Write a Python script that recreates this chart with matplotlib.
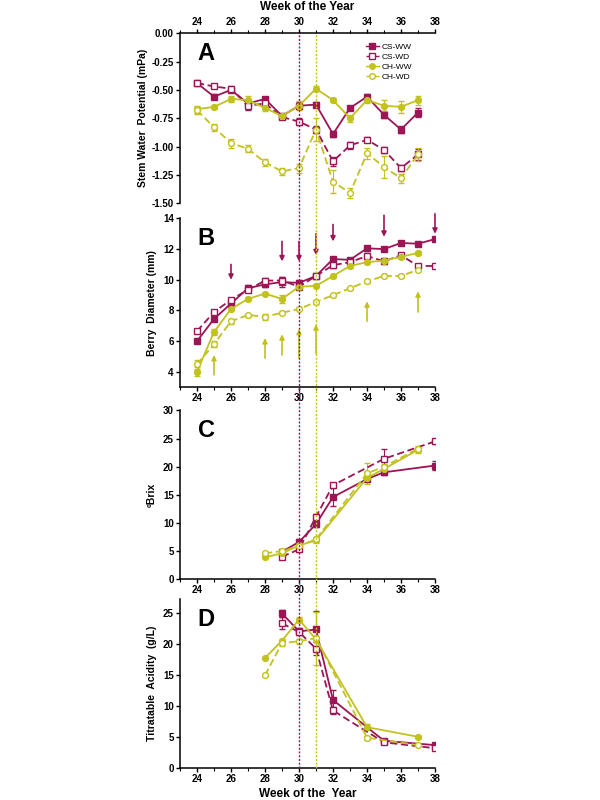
import matplotlib
matplotlib.use("Agg")
import matplotlib.pyplot as plt
import matplotlib.transforms as mtransforms
from matplotlib.lines import Line2D
import numpy as np

plt.rcParams['font.family'] = ['Liberation Sans', 'DejaVu Sans']
plt.rcParams['font.weight'] = 'bold'

CRIMSON = '#9c1555'
YELLOW = '#c2c21e'

series_names = ['CS-WW', 'CS-WD', 'CH-WW', 'CH-WD']

# Panel A: stem water potential
weeks_a = [24, 25, 26, 27, 28, 29, 30, 31, 32, 33, 34, 35, 36, 37]
swp_cs_ww = [-0.44, -0.56, -0.50, -0.62, -0.58, -0.73, -0.64, -0.63, -0.89, -0.66, -0.56, -0.72, -0.85, -0.70]
swp_cs_wd = [-0.44, -0.47, -0.49, -0.64, -0.62, -0.74, -0.78, -0.85, -1.13, -0.99, -0.94, -1.03, -1.19, -1.07]
swp_ch_ww = [-0.67, -0.65, -0.58, -0.59, -0.66, -0.73, -0.64, -0.49, -0.59, -0.75, -0.59, -0.64, -0.65, -0.59]
swp_ch_wd = [-0.68, -0.83, -0.97, -1.02, -1.14, -1.22, -1.19, -0.85, -1.31, -1.41, -1.06, -1.18, -1.28, -1.07]
swp_err_cs_ww = [0.01, 0.02, 0.02, 0.03, 0.02, 0.02, 0.03, 0.02, 0.03, 0.02, 0.02, 0.03, 0.03, 0.04]
swp_err_cs_wd = [0.01, 0.01, 0.02, 0.04, 0.03, 0.02, 0.03, 0.03, 0.04, 0.03, 0.02, 0.03, 0.03, 0.05]
swp_err_ch_ww = [0.03, 0.02, 0.03, 0.04, 0.03, 0.03, 0.04, 0.02, 0.02, 0.03, 0.03, 0.05, 0.05, 0.04]
swp_err_ch_wd = [0.03, 0.03, 0.04, 0.03, 0.03, 0.03, 0.04, 0.10, 0.10, 0.04, 0.05, 0.10, 0.04, 0.06]

# Panel B: berry diameter
weeks_b_cs = [24, 25, 26, 27, 28, 29, 30, 31, 32, 33, 34, 35, 36, 37, 38]
weeks_b_ch = [24, 25, 26, 27, 28, 29, 30, 31, 32, 33, 34, 35, 36, 37]
bd_cs_ww = [6.0, 7.45, 8.45, 9.45, 9.7, 9.85, 9.8, 10.25, 11.35, 11.3, 12.05, 12.0, 12.4, 12.35, 12.65]
bd_cs_wd = [6.65, 7.9, 8.7, 9.35, 9.95, 9.95, 9.55, 10.25, 10.95, 11.15, 11.55, 11.2, 11.6, 10.9, 10.9]
bd_ch_ww = [4.0, 6.6, 8.1, 8.75, 9.1, 8.75, 9.55, 9.6, 10.25, 10.9, 11.15, 11.25, 11.5, 11.75]
bd_ch_wd = [4.5, 5.8, 7.3, 7.7, 7.6, 7.85, 8.1, 8.55, 9.0, 9.45, 9.9, 10.25, 10.25, 10.65]
bd_err_cs_ww = [0.05, 0.1, 0.1, 0.2, 0.2, 0.3, 0.2, 0.15, 0.1, 0.15, 0.15, 0.15, 0.15, 0.08, 0.05]
bd_err_cs_wd = [0.1, 0.15, 0.1, 0.15, 0.15, 0.2, 0.15, 0.15, 0.15, 0.1, 0.15, 0.15, 0.15, 0.1, 0.1]
bd_err_ch_ww = [0.3, 0.2, 0.15, 0.1, 0.1, 0.25, 0.1, 0.1, 0.15, 0.1, 0.1, 0.15, 0.1, 0.15]
bd_err_ch_wd = [0.3, 0.2, 0.15, 0.1, 0.2, 0.1, 0.1, 0.1, 0.1, 0.1, 0.1, 0.1, 0.1, 0.1]

# arrows in panel B (week, tail, head)
arrow_cs_weeks = [26, 29, 30, 31, 32, 35, 38]
arrow_cs_tail = [11.0, 12.5, 12.5, 13.0, 13.6, 14.2, 14.3]
arrow_cs_head = [10.0, 11.2, 11.2, 11.6, 12.5, 12.8, 13.0]
arrow_ch_weeks = [25, 28, 29, 30, 31, 34, 37]
arrow_ch_tail = [3.8, 4.9, 5.1, 4.9, 5.2, 7.3, 7.9]
arrow_ch_head = [5.1, 6.2, 6.45, 6.8, 7.1, 8.6, 9.25]

# Panel C: Brix
weeks_c_cs_ww = [29, 30, 31, 32, 34, 35, 38]
brix_cs_ww = [4.9, 6.6, 9.8, 14.6, 17.8, 19.0, 20.2]
brix_err_cs_ww = [0.3, 0.5, 0.5, 1.6, 0.4, 0.4, 0.8]
weeks_c_cs_wd = [29, 30, 31, 32, 35, 38]
brix_cs_wd = [4.0, 5.3, 11.1, 16.7, 21.4, 24.5]
brix_err_cs_wd = [0.3, 0.4, 0.5, 0.4, 1.7, 0.4]
weeks_c_ch = [28, 29, 30, 31, 34, 35, 37]
brix_ch_ww = [3.9, 4.6, 6.0, 6.9, 18.0, 19.6, 23.0]
brix_err_ch_ww = [0.2, 0.3, 0.3, 0.4, 0.5, 0.4, 0.5]
brix_ch_wd = [4.6, 5.0, 5.9, 7.1, 18.8, 20.0, 23.2]
brix_err_ch_wd = [0.2, 0.3, 0.3, 0.4, 1.8, 0.5, 0.4]

# Panel D: titratable acidity
weeks_d_cs = [29, 30, 31, 32, 35, 38]
ta_cs_ww = [25.0, 22.1, 22.4, 11.0, 4.4, 3.7]
ta_err_cs_ww = [0.6, 0.5, 3.0, 1.6, 0.3, 0.2]
ta_cs_wd = [23.4, 22.0, 19.3, 9.3, 4.15, 3.2]
ta_err_cs_wd = [1.0, 0.5, 1.0, 0.5, 0.2, 0.2]
weeks_d_ch = [28, 29, 30, 31, 34, 37]
ta_ch_ww = [17.8, 20.6, 24.0, 20.8, 6.6, 5.05]
ta_err_ch_ww = [0.2, 0.3, 0.4, 0.5, 0.5, 0.2]
ta_ch_wd = [15.0, 20.2, 20.5, 21.0, 4.9, 3.7]
ta_err_ch_wd = [0.2, 0.4, 0.4, 4.3, 0.3, 0.2]

styles = {
    'CS-WW': dict(color=CRIMSON, marker='s', mfc=CRIMSON, ls='-'),
    'CS-WD': dict(color=CRIMSON, marker='s', mfc='white', ls=(0, (4, 2))),
    'CH-WW': dict(color=YELLOW, marker='o', mfc=YELLOW, ls='-'),
    'CH-WD': dict(color=YELLOW, marker='o', mfc='white', ls=(0, (4, 2))),
}


def draw(ax, x, y, err, name):
    st = styles[name]
    ax.errorbar(x, y, yerr=err, color=st['color'], ls=st['ls'], lw=1.3,
                marker=st['marker'], ms=4.2, mfc=st['mfc'], mec=st['color'],
                mew=1.0, capsize=2, elinewidth=0.8, capthick=0.8, label=name,
                zorder=3)


fig = plt.figure(figsize=(6, 8), dpi=100)
left, width = 0.30, 0.425
axA = fig.add_axes([left, 0.746, width, 0.2125])
axB = fig.add_axes([left, 0.516, width, 0.211])
axC = fig.add_axes([left, 0.276, width, 0.211])
axD = fig.add_axes([left, 0.04, width, 0.211])

draw(axA, weeks_a, swp_cs_ww, swp_err_cs_ww, 'CS-WW')
draw(axA, weeks_a, swp_cs_wd, swp_err_cs_wd, 'CS-WD')
draw(axA, weeks_a, swp_ch_ww, swp_err_ch_ww, 'CH-WW')
draw(axA, weeks_a, swp_ch_wd, swp_err_ch_wd, 'CH-WD')

draw(axB, weeks_b_cs, bd_cs_ww, bd_err_cs_ww, 'CS-WW')
draw(axB, weeks_b_cs, bd_cs_wd, bd_err_cs_wd, 'CS-WD')
draw(axB, weeks_b_ch, bd_ch_ww, bd_err_ch_ww, 'CH-WW')
draw(axB, weeks_b_ch, bd_ch_wd, bd_err_ch_wd, 'CH-WD')
for w, t, h in zip(arrow_cs_weeks, arrow_cs_tail, arrow_cs_head):
    axB.annotate('', xy=(w, h), xytext=(w, t), annotation_clip=False,
                 arrowprops=dict(arrowstyle='-|>', color=CRIMSON, lw=1.2,
                                 mutation_scale=7, shrinkA=0, shrinkB=0))
for w, t, h in zip(arrow_ch_weeks, arrow_ch_tail, arrow_ch_head):
    axB.annotate('', xy=(w, h), xytext=(w, t), annotation_clip=False,
                 arrowprops=dict(arrowstyle='-|>', color=YELLOW, lw=1.2,
                                 mutation_scale=7, shrinkA=0, shrinkB=0))

draw(axC, weeks_c_cs_ww, brix_cs_ww, brix_err_cs_ww, 'CS-WW')
draw(axC, weeks_c_cs_wd, brix_cs_wd, brix_err_cs_wd, 'CS-WD')
draw(axC, weeks_c_ch, brix_ch_ww, brix_err_ch_ww, 'CH-WW')
draw(axC, weeks_c_ch, brix_ch_wd, brix_err_ch_wd, 'CH-WD')

draw(axD, weeks_d_cs, ta_cs_ww, ta_err_cs_ww, 'CS-WW')
draw(axD, weeks_d_cs, ta_cs_wd, ta_err_cs_wd, 'CS-WD')
draw(axD, weeks_d_ch, ta_ch_ww, ta_err_ch_ww, 'CH-WW')
draw(axD, weeks_d_ch, ta_ch_wd, ta_err_ch_wd, 'CH-WD')

week_ticks = list(range(24, 39, 2))
for ax in (axA, axB, axC, axD):
    ax.set_xlim(23, 38)
    ax.set_xticks(week_ticks)
    ax.set_xticks(range(23, 39), minor=True)
    ax.spines['right'].set_visible(False)
    ax.tick_params(labelsize=7, width=1, length=3, pad=1.5)
    ax.tick_params(which='minor', length=2, width=0.8)
    for s in ax.spines.values():
        s.set_linewidth(1.1)

# Panel A: top axis
axA.spines['bottom'].set_visible(False)
axA.xaxis.tick_top()
axA.xaxis.set_label_position('top')
axA.set_xlabel('Week of the Year', fontsize=8.5, fontweight='bold', labelpad=5)
axA.set_ylim(-1.5, 0)
a_ticks = np.arange(-1.5, 0.01, 0.25)
axA.set_yticks(a_ticks)
axA.set_yticklabels(['%.2f' % v for v in a_ticks])
axA.set_ylabel('Stem Water  Potential (mPa)', fontsize=7.5, fontweight='bold')

for ax in (axB, axC, axD):
    ax.spines['top'].set_visible(False)

axB.set_ylim(3, 14)
axB.set_yticks([4, 6, 8, 10, 12, 14])
axB.set_ylabel('Berry  Diameter (mm)', fontsize=7.5, fontweight='bold')

axC.set_ylim(0, 30)
axC.set_yticks([0, 5, 10, 15, 20, 25, 30])
axC.set_ylabel('ºBrix', fontsize=7.5, fontweight='bold')

axD.set_ylim(0, 27.3)
axD.set_yticks([0, 5, 10, 15, 20, 25])
axD.set_ylabel('Titratable  Acidity  (g/L)', fontsize=7.5, fontweight='bold')
axD.set_xlabel('Week of the  Year', fontsize=8.5, fontweight='bold', labelpad=3)

axA.yaxis.set_label_coords(-0.125, 0.5)
for ax in (axB, axC, axD):
    ax.yaxis.set_label_coords(-0.09, 0.5)
for ax in (axA, axB, axC, axD):
    for lab in ax.get_xticklabels() + ax.get_yticklabels():
        lab.set_fontweight('bold')

for ax, letter in zip((axA, axB, axC, axD), 'ABCD'):
    ax.text(0.07, 0.88, letter, transform=ax.transAxes, fontsize=17,
            fontweight='bold', va='center', ha='left')

# vertical reference lines through all panels
trans = mtransforms.blended_transform_factory(axA.transData, fig.transFigure)
fig.add_artist(Line2D([30, 30], [0.04, 0.9585], transform=trans, color=CRIMSON,
                      lw=1.0, ls=(0, (1.5, 1.2)), zorder=1))
fig.add_artist(Line2D([31, 31], [0.04, 0.9585], transform=trans, color=YELLOW,
                      lw=1.0, ls=(0, (1.5, 1.2)), zorder=1))

handles = [Line2D([], [], color=styles[n]['color'], ls=styles[n]['ls'], lw=1.0,
                  marker=styles[n]['marker'], ms=4, mfc=styles[n]['mfc'],
                  mec=styles[n]['color']) for n in series_names]
axA.legend(handles, series_names, loc='upper right', bbox_to_anchor=(0.93, 0.97),
           frameon=False, prop={'size': 6, 'weight': 'normal'}, handlelength=1.6,
           handletextpad=0.3, labelspacing=0.25, borderaxespad=0.2)

fig.savefig('out.png', dpi=100)
